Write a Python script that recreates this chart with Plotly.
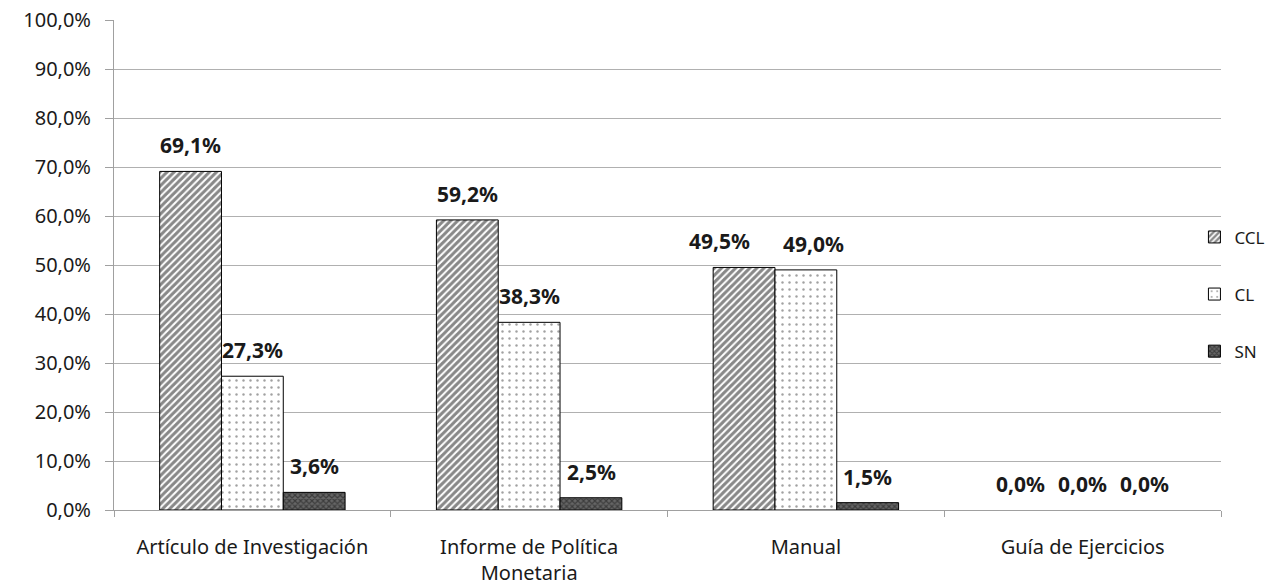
import plotly.graph_objects as go

categories = ["Artículo de Investigación", "Informe de Política<br>Monetaria", "Manual", "Guía de Ejercicios"]
ccl = [0.691, 0.592, 0.495, 0.0]
cl = [0.273, 0.383, 0.490, 0.0]
sn = [0.036, 0.025, 0.015, 0.0]
series = [("CCL", ccl, dict(shape="/", fgcolor="#111111", bgcolor="white", size=5, solidity=0.6), -62),
          ("CL", cl, dict(shape=".", fgcolor="#444444", bgcolor="white", size=7, solidity=0.1), 0),
          ("SN", sn, dict(shape="x", fgcolor="#111111", bgcolor="#666666", size=4, solidity=0.5), 62)]
# small horizontal nudges of overlapping data labels (as in the original)
label_nudge = {("CCL", "Manual"): -24, ("CL", "Manual"): 8}

fig = go.Figure()
for name, vals, pat, dx in series:
    fig.add_trace(go.Bar(
        name=name, x=categories, y=vals, legendgroup=name,
        marker=dict(color="white", pattern=pat,
                    line=dict(color="black", width=[1 if v > 0 else 0 for v in vals])),
        cliponaxis=False,
    ))
    for c, v in zip(categories, vals):
        fig.add_annotation(x=c, y=v, xref="x", yref="y",
                           xshift=dx + label_nudge.get((name, c), 0), yshift=26,
                           yanchor="middle", showarrow=False,
                           text="<b>" + f"{v*100:.1f}".replace(".", ",") + "%</b>",
                           font=dict(family="Noto Sans", size=21, color="#1a1a1a"))

fig.update_layout(
    width=1274, height=588, barmode="group", bargap=0.33, bargroupgap=0,
    separators=",.",
    paper_bgcolor="white", plot_bgcolor="white",
    margin=dict(l=114, r=53, t=20, b=78, autoexpand=False),
    font=dict(family="Noto Sans", size=20, color="#1a1a1a"),
    legend=dict(x=0.976, y=0.44, yanchor="middle", xanchor="left",
                font=dict(size=17), traceorder="grouped", tracegroupgap=32, itemwidth=30,
                bgcolor="rgba(0,0,0,0)"),
    showlegend=True,
)
fig.update_yaxes(range=[0, 1.0], tickformat=".1%", dtick=0.1,
                 showgrid=True, gridcolor="#b0b0b0", gridwidth=1,
                 showline=True, linecolor="#a0a0a0", linewidth=1,
                 ticks="outside", ticklen=8, tickcolor="#a0a0a0", ticklabelstandoff=10,
                 ticklabeloverflow="allow",
                 tickfont=dict(size=20, color="#1a1a1a"), zeroline=False)
fig.update_xaxes(showline=True, linecolor="#a0a0a0", linewidth=1,
                 ticks="outside", ticklen=6, tickcolor="#a0a0a0", ticklabelstandoff=19,
                 ticklabeloverflow="allow",
                 tickson="boundaries", tickfont=dict(size=20, color="#1a1a1a"))

fig.write_html("out.html", config={"displayModeBar": False},
               post_script="document.body.style.margin='0';")
